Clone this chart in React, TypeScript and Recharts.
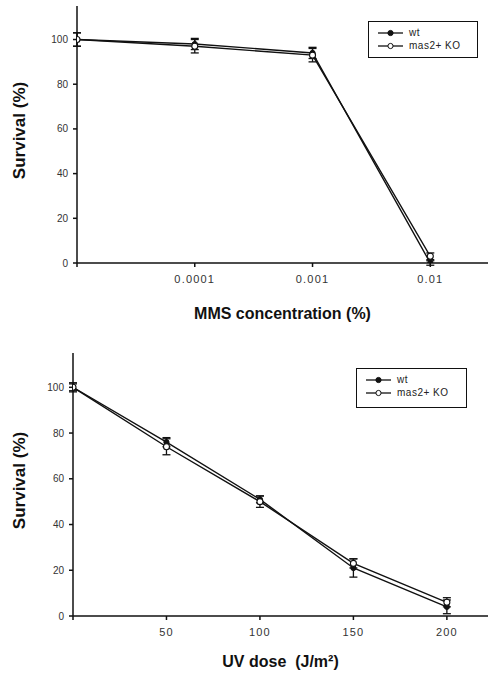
import React from "react";
import { ErrorBar, Legend, Line, LineChart, XAxis, YAxis } from "recharts";

// MMS panel
const mmsLabels = ["", "0.0001", "0.001", "0.01"];
const mmsWt = [100, 98, 94, 0];
const mmsWtErr = [3, 2.5, 2.5, 1];
const mmsKo = [100, 97, 93, 3];
const mmsKoErr = [3, 3, 3, 1.5];

// UV panel
const uvDoses = [0, 50, 100, 150, 200];
const uvWt = [100, 76, 51, 21, 4];
const uvWtErr = [1.5, 2, 1.5, 4, 3];
const uvKo = [100, 74, 50, 23, 6];
const uvKoErr = [2, 3.5, 2.5, 2, 2];

const survivalTicks = [0, 20, 40, 60, 80, 100];
const seriesNames = { wt: "wt", ko: "mas2+ KO" };

const FONT = '"Liberation Sans", Arial, sans-serif';
const INK = "#111";

const mmsData = mmsLabels.map((_, i) => ({
  x: i,
  wt: mmsWt[i],
  wtErr: mmsWtErr[i],
  ko: mmsKo[i],
  koErr: mmsKoErr[i],
}));

const uvData = uvDoses.map((d, i) => ({
  x: d,
  wt: uvWt[i],
  wtErr: uvWtErr[i],
  ko: uvKo[i],
  koErr: uvKoErr[i],
}));

function XTitle({ viewBox, text, dy }: any) {
  const vb = viewBox || { x: 0, y: 0, width: 0, height: 0 };
  return (
    <text
      x={vb.x + vb.width / 2}
      y={vb.y + dy}
      textAnchor="middle"
      fontFamily={FONT}
      fontWeight="bold"
      fontSize={16}
      fill={INK}
      style={{ whiteSpace: "pre" }}
    >
      {text}
    </text>
  );
}

function YTitle({ viewBox, text }: any) {
  const vb = viewBox || { x: 0, y: 0, width: 0, height: 0 };
  const cx = 25;
  const cy = vb.y + vb.height / 2 - 4;
  return (
    <text
      x={cx}
      y={cy}
      transform={`rotate(-90, ${cx}, ${cy})`}
      textAnchor="middle"
      fontFamily={FONT}
      fontWeight="bold"
      fontSize={17}
      fill={INK}
    >
      {text}
    </text>
  );
}

function LegendBox({ payload }: any) {
  return (
    <div
      style={{
        border: `1.5px solid ${INK}`,
        boxSizing: "border-box",
        width: "100%",
        height: "100%",
        padding: "4px 0 0 8px",
        background: "#fff",
      }}
    >
      {(payload || []).map((entry: any) => {
        const filled = entry.dataKey === "wt";
        return (
          <div
            key={entry.value}
            style={{ display: "flex", alignItems: "center", height: 13 }}
          >
            <svg width={28} height={10}>
              <line x1={1} y1={5} x2={26} y2={5} stroke={INK} strokeWidth={1.3} />
              <circle
                cx={13.5}
                cy={5}
                r={2.6}
                fill={filled ? INK : "#fff"}
                stroke={INK}
                strokeWidth={1}
              />
            </svg>
            <span
              style={{
                fontFamily: FONT,
                fontSize: 10,
                color: "#222",
                marginLeft: 4,
                letterSpacing: 0.5,
              }}
            >
              {entry.value}
            </span>
          </div>
        );
      })}
    </div>
  );
}

function Panel({
  data,
  xDomain,
  xTicks,
  xFormat,
  xTitle,
  titleDy,
  height,
  top,
  plotBottom,
  yWidth,
  legendPos,
}: any) {
  const axisH = 30;
  return (
    <LineChart
      width={488}
      height={height}
      data={data}
      margin={{ top, right: 0, bottom: height - plotBottom - axisH, left: 0 }}
    >
      <XAxis
        dataKey="x"
        type="number"
        domain={xDomain}
        ticks={xTicks}
        tickFormatter={xFormat}
        allowDataOverflow
        stroke={INK}
        strokeWidth={1.5}
        tickSize={4}
        tickMargin={8}
        height={axisH}
        tick={{ fontFamily: FONT, fontSize: 11, fill: "#333", letterSpacing: 1.2 }}
        label={<XTitle text={xTitle} dy={titleDy} />}
      />
      <XAxis
        xAxisId="top"
        orientation="top"
        type="number"
        domain={xDomain}
        allowDataOverflow
        tick={false}
        tickLine={false}
        stroke={INK}
        strokeWidth={1.5}
        height={0}
      />
      <YAxis
        type="number"
        domain={[0, 115]}
        ticks={survivalTicks}
        allowDataOverflow
        width={yWidth}
        stroke={INK}
        strokeWidth={1.5}
        tickSize={4}
        tickMargin={5}
        tick={{ fontFamily: FONT, fontSize: 10, fill: "#333" }}
        label={<YTitle text="Survival (%)" />}
      />
      <Legend
        layout="vertical"
        align="center"
        verticalAlign="middle"
        itemSorter={(item: any) => (item.dataKey === "wt" ? 0 : 1)}
        content={<LegendBox />}
        wrapperStyle={{
          position: "absolute",
          left: legendPos[0],
          top: legendPos[1],
          width: legendPos[2],
          height: legendPos[3],
        }}
      />
      <Line
        dataKey="wt"
        name={seriesNames.wt}
        stroke={INK}
        strokeWidth={1.4}
        dot={{ r: 2.6, fill: INK, stroke: INK, strokeWidth: 1 }}
        isAnimationActive={false}
      >
        <ErrorBar dataKey="wtErr" width={4} stroke={INK} strokeWidth={1.3} />
      </Line>
      <Line
        dataKey="ko"
        name={seriesNames.ko}
        stroke={INK}
        strokeWidth={1.4}
        dot={{ r: 3, fill: "#fff", stroke: INK, strokeWidth: 1.1 }}
        isAnimationActive={false}
      >
        <ErrorBar dataKey="koErr" width={4} stroke={INK} strokeWidth={1.3} />
      </Line>
    </LineChart>
  );
}

export default function App() {
  return (
    <div
      style={{
        position: "absolute",
        left: 0,
        top: 0,
        width: 488,
        height: 674,
        background: "#fff",
        overflow: "hidden",
      }}
    >
      <div style={{ position: "absolute", left: 0, top: 0 }}>
        <Panel
          data={mmsData}
          xDomain={[0, 3.49]}
          xTicks={[0, 1, 2, 3]}
          xFormat={(v: number) => mmsLabels[v] ?? ""}
          xTitle="MMS concentration (%)"
          titleDy={56}
          height={330}
          top={6}
          plotBottom={263}
          yWidth={77}
          legendPos={[368, 21, 110, 37]}
        />
      </div>
      <div style={{ position: "absolute", left: 0, top: 330 }}>
        <Panel
          data={uvData}
          xDomain={[0, 222]}
          xTicks={uvDoses}
          xFormat={(v: number) => (v === 0 ? "" : String(v))}
          xTitle={"UV dose  (J/m\u00b2)"}
          titleDy={51}
          height={344}
          top={23}
          plotBottom={286}
          yWidth={73}
          legendPos={[356, 38, 111, 40]}
        />
      </div>
    </div>
  );
}
